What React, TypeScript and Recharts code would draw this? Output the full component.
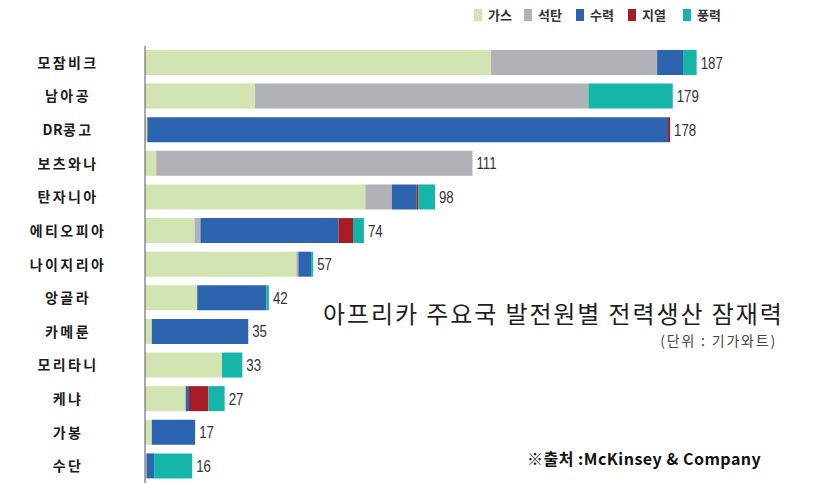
import { Bar, BarChart, LabelList, XAxis, YAxis } from "recharts";

const countries = ["모잠비크", "남아공", "DR콩고", "보츠와나", "탄자니아", "에티오피아", "나이지리아", "앙골라", "카메룬", "모리타니", "케냐", "가봉", "수단"];
const gas = [117.3, 37.3, 0.8, 3.8, 74.7, 16.8, 51.3, 17.7, 2.3, 26.1, 13.8, 2.3, 0.5];
const coal = [56.3, 113, 0, 107.2, 9.0, 2.0, 0.7, 0, 0, 0, 0, 0, 0];
const hydro = [8.8, 0, 176.5, 0, 8.3, 46.8, 4.3, 23.4, 32.7, 0, 1.1, 14.7, 2.6];
const geo = [0, 0, 0.7, 0, 0.6, 4.9, 0, 0, 0, 0, 6.6, 0, 0];
const wind = [4.6, 28.6, 0, 0, 5.7, 3.7, 0.7, 0.9, 0, 6.9, 5.5, 0, 12.9];
const totals = [187, 179, 178, 111, 98, 74, 57, 42, 35, 33, 27, 17, 16];

const series = [
  { key: "gas", name: "가스", color: "#d2e4b1" },
  { key: "coal", name: "석탄", color: "#b1b2b7" },
  { key: "hydro", name: "수력", color: "#2d64b0" },
  { key: "geo", name: "지열", color: "#a51c24" },
  { key: "wind", name: "풍력", color: "#15b5a9" },
];

const data = countries.map((c, i) => ({
  country: c,
  gas: gas[i],
  coal: coal[i],
  hydro: hydro[i],
  geo: geo[i],
  wind: wind[i],
  total: totals[i],
}));

// which segment closes each bar (the total label hangs off it)
const lastKey = data.map((d: any) => {
  let k = series[0].key;
  series.forEach((s) => {
    if (d[s.key] > 0) k = s.key;
  });
  return k;
});

const KR = "'Noto Sans CJK KR', 'Noto Sans', sans-serif";

function CountryTick({ y, payload }: any) {
  // latin letters stay tight, hangul gets the wide tracking
  const parts = String(payload.value).match(/[A-Za-z]+|[^A-Za-z]+/g) || [];
  return (
    <text x={68} y={y} dy={5} textAnchor="middle" fontFamily={KR} fontWeight={700} fontSize={14} fill="#1a1a1a">
      {parts.map((p, i) => (
        <tspan key={i} letterSpacing={/[A-Za-z]/.test(p) ? 0.5 : 2.4}>{p}</tspan>
      ))}
    </text>
  );
}

function totalLabel(key: string) {
  return (props: any) => {
    const { x, y, width, height, value } = props;
    const i = countries.indexOf(value);
    if (i < 0 || lastKey[i] !== key) return null;
    const lx = Number(x) + Number(width) + 4;
    const ly = Number(y) + Number(height) / 2 + 6;
    return (
      <text transform={`translate(${lx},${ly}) scale(0.78,1)`} fontFamily="'Liberation Sans', Arial, sans-serif" fontSize={17} fill="#333">
        {totals[i]}
      </text>
    );
  };
}

const legendX = [474, 524, 576, 628, 683];

export default function App() {
  return (
    <div style={{ position: "absolute", left: 0, top: 0, width: 824, height: 484, background: "#fff", overflow: "hidden" }}>
      <BarChart width={824} height={484} data={data} layout="vertical" margin={{ top: 46, right: 89, bottom: 1, left: 0 }} barSize={25}>
        <XAxis type="number" hide domain={[0, 200]} />
        <YAxis type="category" dataKey="country" width={145} axisLine={{ stroke: "#555" }} tickLine={false} tick={<CountryTick />} interval={0} />
        {series.map((s) => (
          <Bar key={s.key} dataKey={s.key} stackId="a" fill={s.color} isAnimationActive={false}>
            <LabelList dataKey="country" content={totalLabel(s.key)} />
          </Bar>
        ))}
      </BarChart>

      {series.map((s, i) => (
        <div key={s.key} style={{ position: "absolute", left: legendX[i], top: 8, display: "flex", alignItems: "center", fontFamily: KR, fontSize: 13, fontWeight: 700, color: "#333", lineHeight: "14px" }}>
          <span style={{ display: "inline-block", width: 8, height: 12, background: s.color, marginRight: 6 }} />
          {s.name}
        </div>
      ))}

      <div style={{ position: "absolute", left: 323, top: 299, fontFamily: KR, fontSize: 24, letterSpacing: 1.9, color: "#1e1e1e", lineHeight: "28px", whiteSpace: "nowrap" }}>
        아프리카 주요국 발전원별 전력생산 잠재력
      </div>
      <div style={{ position: "absolute", right: 47, top: 331, fontFamily: KR, fontSize: 14, letterSpacing: 1.8, color: "#444", lineHeight: "18px", whiteSpace: "nowrap" }}>
        (단위 : 기가와트)
      </div>
      <div style={{ position: "absolute", left: 527, top: 448, fontFamily: KR, fontSize: 16, letterSpacing: 0.5, fontWeight: 700, color: "#111", lineHeight: "20px", whiteSpace: "nowrap" }}>
        ※출처 :McKinsey &amp; Company
      </div>
    </div>
  );
}
